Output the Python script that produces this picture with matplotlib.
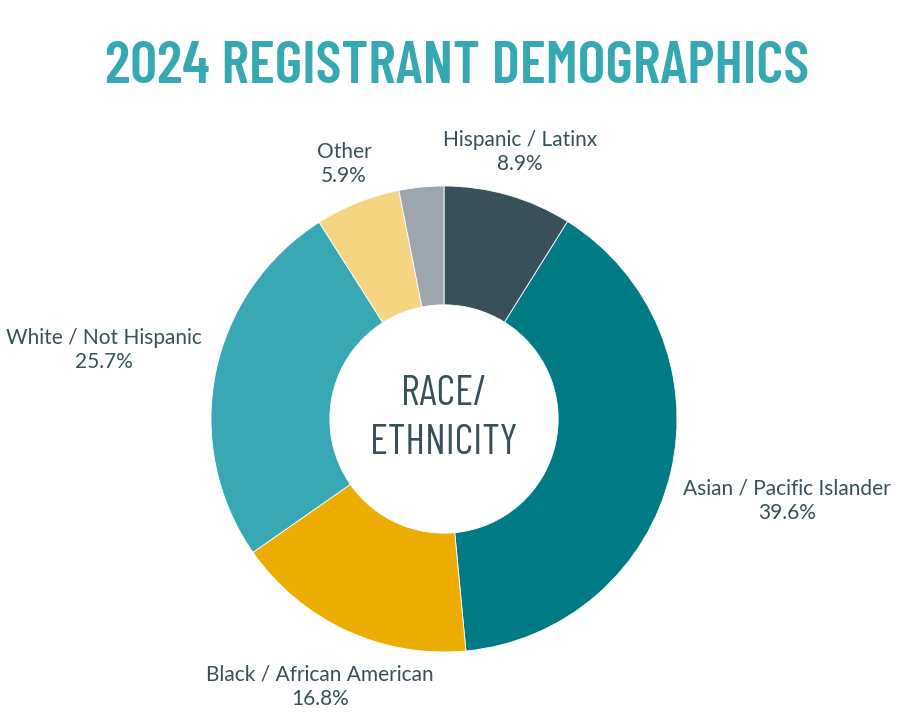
import matplotlib
matplotlib.use("Agg")
import matplotlib.pyplot as plt

categories = ["Hispanic / Latinx", "Asian / Pacific Islander", "Black / African American",
              "White / Not Hispanic", "Other", ""]
values = [8.9, 39.6, 16.8, 25.7, 5.9, 3.1]
colors = ["#37505a", "#007a85", "#ecad00", "#38a9b4", "#f5d581", "#9ea6ad"]
label_pos_px = [(520, 152), (787, 501), (320, 687), (104, 350), (344, 164), None]

W, H = 905, 716
cx, cy, R = 444, 419, 233
fig = plt.figure(figsize=(W / 100, H / 100), dpi=100)
ax = fig.add_axes([0, 0, 1, 1])

ax.pie(values, colors=colors, startangle=90, counterclock=False, radius=1,
       wedgeprops=dict(width=0.51, edgecolor="white", linewidth=0.6))
ax.set_aspect("auto")
ax.set_xlim(-cx / R, (W - cx) / R)
ax.set_ylim(-(H - cy) / R, cy / R)
ax.axis("off")

cond = ["Barlow Condensed", "Fira Sans Condensed", "DejaVu Sans"]
txtc = "#37505a"
for cat, v, pos in zip(categories, values, label_pos_px):
    if pos is None:
        continue
    x, y = (pos[0] - cx) / R, (cy - pos[1]) / R
    ax.text(x, y, f"{cat}\n{v:.1f}%", ha="center", va="center", fontsize=15,
            family=["Lato", "DejaVu Sans"], color=txtc, linespacing=1.3)

ax.text(0, 0.0, "RACE/\nETHNICITY", ha="center", va="center", fontsize=30,
        family=cond, fontweight="normal", color=txtc, linespacing=1.36)

fig.text(457 / W, 1 - 67.5 / H, "2024 REGISTRANT DEMOGRAPHICS", ha="center", va="center",
         fontsize=42.8, family=cond, fontweight="semibold", color="#35a8b2")

fig.savefig("out.png", dpi=100)
